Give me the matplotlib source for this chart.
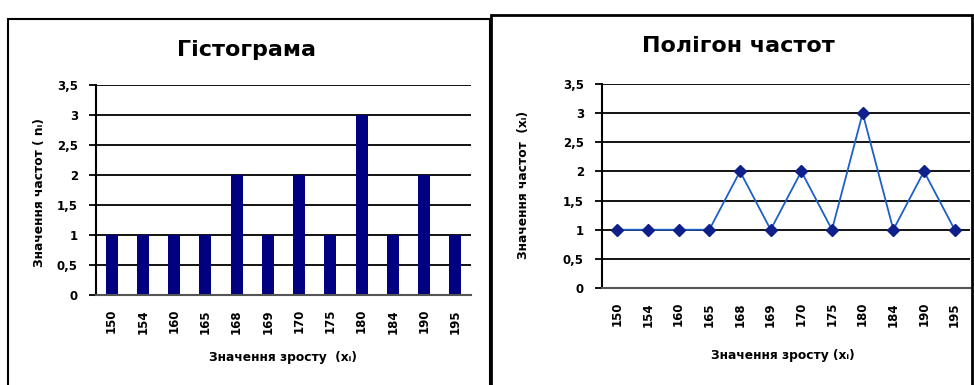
import matplotlib
matplotlib.use('Agg')
import matplotlib.pyplot as plt
from matplotlib.patches import Rectangle

# data
heights = ['150', '154', '160', '165', '168', '169', '170', '175', '180', '184', '190', '195']
counts = [1, 1, 1, 1, 2, 1, 2, 1, 3, 1, 2, 1]
yticks = [0, 0.5, 1, 1.5, 2, 2.5, 3, 3.5]
ytick_labels = ['0', '0,5', '1', '1,5', '2', '2,5', '3', '3,5']

W, H = 974, 385
fig = plt.figure(figsize=(W/100, H/100), dpi=100)


def fx(px):
  return px/W


def fy(py):
  return 1 - py/H


def style_axes(ax):
  ax.set_ylim(0, 3.5)
  ax.set_xlim(-0.5, len(heights) - 0.5)
  ax.set_yticks(yticks)
  ax.set_yticklabels(ytick_labels, fontsize=8.5, fontweight='bold')
  ax.set_xticks(range(len(heights)))
  ax.set_xticklabels(heights, rotation=90, fontsize=8.5, fontweight='bold')
  ax.grid(True, axis='y', color='black', linewidth=1.3)
  ax.set_axisbelow(True)
  ax.spines['top'].set_visible(False)
  ax.spines['right'].set_visible(False)
  ax.spines['left'].set_linewidth(1.5)
  ax.spines['bottom'].set_color('#555555')
  ax.spines['bottom'].set_linewidth(1.5)
  ax.tick_params(axis='y', length=5, width=1.3, pad=8)
  ax.tick_params(axis='x', length=0, pad=10)


# panel frames (bottom edge runs off the picture)
fig.patches.append(Rectangle((fx(8), fy(400)), fx(490) - fx(8), fy(19) - fy(400),
                             transform=fig.transFigure, fill=False,
                             edgecolor='black', linewidth=1.5))
fig.patches.append(Rectangle((fx(491), fy(400)), fx(972) - fx(491), fy(15) - fy(400),
                             transform=fig.transFigure, fill=False,
                             edgecolor='black', linewidth=2.0))

# histogram
ax1 = fig.add_axes([fx(96), fy(295), fx(471) - fx(96), fy(85) - fy(295)])
ax1.bar(range(len(heights)), counts, width=0.38, color='#000080')
style_axes(ax1)
fig.text(fx(246), fy(50), 'Гістограма', ha='center', va='center',
         fontsize=16, fontweight='bold')
fig.text(fx(283), fy(358), 'Значення зросту  (xᵢ)', ha='center', va='center',
         fontsize=8.8, fontweight='bold')
fig.text(fx(40), fy(193), 'Значення частот ( nᵢ)', ha='center', va='center',
         rotation=90, fontsize=8.8, fontweight='bold')

# frequency polygon
ax2 = fig.add_axes([fx(602), fy(288), fx(970) - fx(602), fy(84) - fy(288)])
ax2.plot(range(len(heights)), counts, color='#1f5fc8', linewidth=1.3,
         marker='D', markersize=6, markerfacecolor='#10208a',
         markeredgecolor='#10208a', clip_on=False)
style_axes(ax2)
fig.text(fx(738), fy(46), 'Полігон частот', ha='center', va='center',
         fontsize=16, fontweight='bold')
fig.text(fx(783), fy(355), 'Значення зросту (xᵢ)', ha='center', va='center',
         fontsize=8.8, fontweight='bold')
fig.text(fx(523), fy(185), 'Значення частот  (xᵢ)', ha='center', va='center',
         rotation=90, fontsize=8.8, fontweight='bold')

plt.savefig('out.png', dpi=100)
